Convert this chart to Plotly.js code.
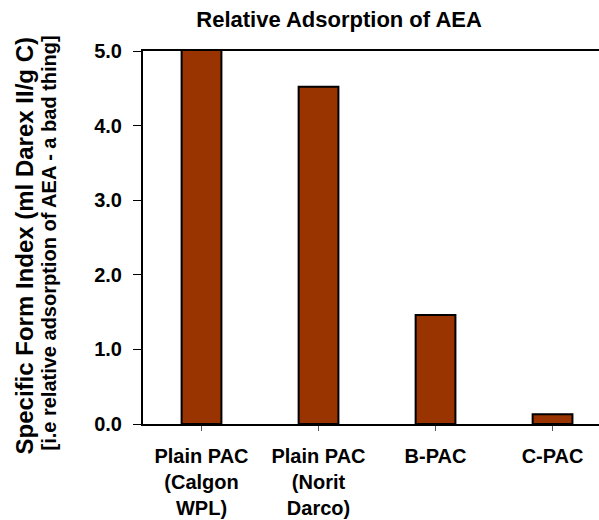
<!DOCTYPE html>
<html>
<head>
<meta charset="utf-8">
<script src="https://cdn.plot.ly/plotly-3.0.1.min.js"></script>
<style>html,body{margin:0;padding:0;background:#fff;}</style>
</head>
<body>
<div id="chart" style="width:599px;height:520px;"></div>
<script>
var categories = ["Plain PAC<br>(Calgon<br>WPL)", "Plain PAC<br>(Norit<br>Darco)", "B-PAC", "C-PAC"];
var values = [5.1, 4.52, 1.46, 0.13];
var yTickVals = [0, 1, 2, 3, 4, 5];
var yTickText = ["0.0", "1.0", "2.0", "3.0", "4.0", "5.0"];
var titleText = "Relative Adsorption of AEA";
var yTitleMain = "Specific Form Index (ml Darex II/g C)";
var yTitleSub = "[i.e relative adsorption of AEA - a bad thing]";

var trace = {
  type: "bar",
  x: [0, 1, 2, 3],
  y: values,
  width: 0.34,
  marker: {color: "#993300", line: {color: "#000", width: 2}},
  hoverinfo: "skip"
};

var layout = {
  width: 599, height: 520,
  margin: {l: 143, r: 0, t: 51, b: 96},
  paper_bgcolor: "#fff", plot_bgcolor: "#fff",
  showlegend: false,
  font: {family: "Liberation Sans, Arial, sans-serif", color: "#000"},
  title: {
    text: "<b>" + titleText + "</b>",
    font: {size: 22, color: "#000"},
    x: 0.43, xref: "paper", xanchor: "center",
    y: 0.962, yref: "container", yanchor: "middle"
  },
  xaxis: {
    range: [-0.5, 3.397],
    tickmode: "array",
    tickvals: [0, 1, 2, 3],
    ticktext: categories.map(function(c){return "<b>" + c + "</b>";}),
    tickson: "boundaries",
    ticks: "outside", ticklen: 5, tickcolor: "#555", tickwidth: 1,
    ticklabelstandoff: 8,
    tickfont: {size: 20, color: "#000"},
    showline: true, linecolor: "#000", linewidth: 2, mirror: true,
    showgrid: false, zeroline: false, fixedrange: true
  },
  yaxis: {
    range: [0, 5],
    tickmode: "array",
    tickvals: yTickVals,
    ticktext: yTickText.map(function(t){return "<b>" + t + "</b>";}),
    ticks: "outside", ticklen: 8, tickcolor: "#000", tickwidth: 1,
    ticklabelstandoff: 7,
    tickfont: {size: 20, color: "#000"},
    showline: true, linecolor: "#000", linewidth: 2,
    showgrid: false, zeroline: false, fixedrange: true
  },
  annotations: [
    {
      text: "<b>" + yTitleMain + "</b>",
      textangle: -90,
      xref: "paper", yref: "paper",
      x: -0.261, y: 0.4786, xanchor: "center", yanchor: "middle",
      showarrow: false,
      font: {size: 24, color: "#000"}
    },
    {
      text: "<b>" + yTitleSub + "</b>",
      textangle: -90,
      xref: "paper", yref: "paper",
      x: -0.206, y: 0.484, xanchor: "center", yanchor: "middle",
      showarrow: false,
      font: {size: 20, color: "#000"}
    }
  ]
};

Plotly.newPlot("chart", [trace], layout, {displayModeBar: false, staticPlot: true});
</script>
</body>
</html>
